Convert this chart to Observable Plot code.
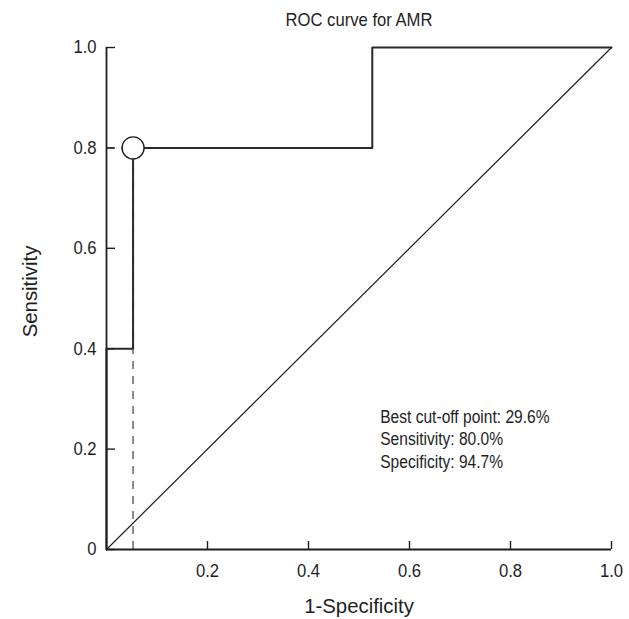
<!DOCTYPE html>
<html><head><meta charset="utf-8">
<script src="https://cdn.jsdelivr.net/npm/d3@7"></script>
<script src="https://cdn.jsdelivr.net/npm/@observablehq/plot@0.6"></script>
<style>body{margin:0;background:#fff}</style>
</head><body><div id="chart"></div>
<script>
const title = "ROC curve for AMR";
const xLabel = "1-Specificity";
const yLabel = "Sensitivity";
// ROC curve vertices (1-specificity, sensitivity)
const fpr = [0, 0, 0.0526, 0.0526, 0.5263, 0.5263, 1];
const tpr = [0, 0.4, 0.4, 0.8, 0.8, 1, 1];
const diagonal = [0, 1];
const cutoff = {fpr: 0.0526, tpr: 0.8};
const xTicks = [0.2, 0.4, 0.6, 0.8, 1.0];
const yTicks = [0, 0.2, 0.4, 0.6, 0.8, 1.0];
const notes = ["Best cut-off point: 29.6%", "Sensitivity: 80.0%", "Specificity: 94.7%"];
const notePos = {x: 0.542, y: 0.222};

const roc = fpr.map((x, i) => ({x, y: tpr[i]}));
const font = '"Liberation Sans", Arial, sans-serif';
const W = 629, H = 619, mL = 106, mR = 18, mT = 47, mB = 70;
const frameW = W - mL - mR, frameH = H - mT - mB;

const chart = Plot.plot({
  width: W,
  height: H,
  marginLeft: mL,
  marginRight: mR,
  marginTop: mT,
  marginBottom: mB,
  style: {fontFamily: font, fontSize: "18px", color: "#1e1e1e", background: "#fff"},
  x: {domain: [0, 1]},
  y: {domain: [0, 1]},
  marks: [
    Plot.ruleX([cutoff], {x: "fpr", y1: 0, y2: "tpr", stroke: "#888", strokeWidth: 2, strokeDasharray: "8,7"}),
    Plot.ruleY([cutoff], {y: "tpr", x1: 0, x2: "fpr", stroke: "#888", strokeWidth: 2, strokeDasharray: "8,7"}),
    Plot.line(diagonal, {x: d => d, y: d => d, stroke: "#1e1e1e", strokeWidth: 1.2}),
    Plot.line(roc, {x: "x", y: "y", stroke: "#2a2a2a", strokeWidth: 2}),
    Plot.ruleX([0], {stroke: "#1e1e1e", strokeWidth: 1.8}),
    Plot.ruleY([0], {stroke: "#1e1e1e", strokeWidth: 1.8}),
    Plot.tickX(xTicks, {x: d => d, insetTop: frameH - 8, stroke: "#1e1e1e", strokeWidth: 1.4}),
    Plot.tickY(yTicks, {y: d => d, insetRight: frameW - 9, stroke: "#1e1e1e", strokeWidth: 1.4}),
    Plot.dot([cutoff], {x: "fpr", y: "tpr", r: 11, fill: "#fff", stroke: "#1e1e1e", strokeWidth: 1.4}),
    Plot.axisX({ticks: xTicks, tickSize: 0, tickPadding: 14, tickFormat: d => d.toFixed(1), label: null, fontSize: 18.5}),
    Plot.axisY({ticks: yTicks, tickSize: 0, tickPadding: 10, tickFormat: d => d === 0 ? "0" : d.toFixed(1), label: null, fontSize: 18.5}),
    Plot.text([notes.join("\n")], {x: () => notePos.x, y: () => notePos.y, textAnchor: "start", lineAnchor: "middle", lineHeight: 1.2, fontSize: 19, fill: "#1e1e1e"}),
    Plot.text([title], {frameAnchor: "top", dy: -27, textAnchor: "middle", lineAnchor: "middle", text: d => d, fontSize: 18.5, fill: "#1e1e1e"}),
    Plot.text([xLabel], {frameAnchor: "bottom", dy: 57, textAnchor: "middle", lineAnchor: "middle", text: d => d, fontSize: 21, fill: "#1e1e1e"}),
    Plot.text([yLabel], {frameAnchor: "left", dx: -76, dy: -7, rotate: -90, textAnchor: "middle", lineAnchor: "middle", text: d => d, fontSize: 21, fill: "#1e1e1e"})
  ]
});
document.getElementById("chart").appendChild(chart);

// condense glyphs horizontally (around each text's anchor) to match the narrow typeface of the original
function squeezeFor(s) {
  if (/^[0-9.]+$/.test(s)) return 0.9;
  if (s === title) return 0.9;
  if (s === xLabel || s === yLabel) return 0.97;
  if (s.startsWith("Best")) return 0.82;
  return null;
}
chart.querySelectorAll("text").forEach(t => {
  const f = squeezeFor(t.textContent);
  if (!f) return;
  const x = t.getAttribute("x");
  if (x !== null && !isNaN(+x)) t.setAttribute("x", +x / f);
  const tr = t.getAttribute("transform") || "";
  t.setAttribute("transform", (tr ? tr + " " : "") + `scale(${f},1)`);
});
</script>
</body></html>
